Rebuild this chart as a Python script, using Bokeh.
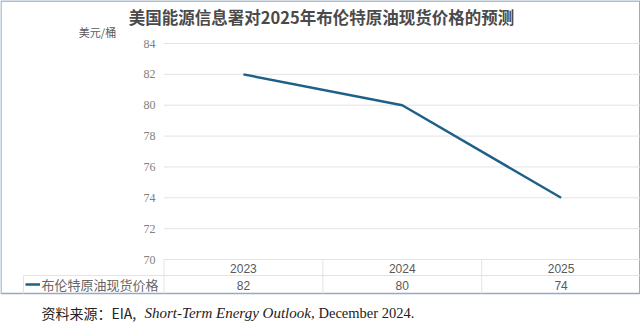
from bokeh.plotting import figure
from bokeh.models import Range1d
from bokeh.core.properties import value
from bokeh.embed import file_html
from bokeh.resources import INLINE

# ---- data ----
years = ["2023", "2024", "2025"]
prices = [82, 80, 74]
y_ticks = [70, 72, 74, 76, 78, 80, 82, 84]
title_text = "美国能源信息署对2025年布伦特原油现货价格的预测"
unit_text = "美元/桶"
series_name = "布伦特原油现货价格"
source_cn = "资料来源：EIA,"
source_it = "Short-Term Energy Outlook,"
source_tail = "December 2024."

# ---- layout constants (pixels) ----
W, H = 640, 328
plot_left, plot_right = 163.5, 640.0
y_top_px, y_bot_px = 43.0, 259.0          # pixel rows of y_ticks[-1] and y_ticks[0]
row1_bot, row2_bot = 275.0, 293.0
LINE_COLOR = "#1d6088"
GRID_COLOR = "#e3e3e3"

ncat = len(years)
ppu_x = (plot_right - plot_left) / ncat
ymin, ymax = y_ticks[0], y_ticks[-1]
ppu_y = (y_bot_px - y_top_px) / (ymax - ymin)

p = figure(width=W, height=H, output_backend="svg", toolbar_location=None,
           x_range=Range1d(0, W), y_range=Range1d(H, 0),
           x_axis_type=None, y_axis_type=None, min_border=0,
           outline_line_color=None, background_fill_color="white",
           border_fill_color="white")
p.xgrid.visible = False
p.ygrid.visible = False
p.extra_x_ranges = {"cat": Range1d(-plot_left / ppu_x, (W - plot_left) / ppu_x)}
p.extra_y_ranges = {"price": Range1d(ymin - (H - y_bot_px) / ppu_y, ymax + y_top_px / ppu_y)}

# outer frame
p.quad(left=[0.5], right=[639.2], top=[0.5], bottom=[row2_bot], fill_color=None,
       line_color="#93abc2", line_width=1.3)

# gridlines (from tick values)
gt = y_ticks[1:]
p.segment(x0=[0] * len(gt), x1=[ncat] * len(gt), y0=gt, y1=gt,
          x_range_name="cat", y_range_name="price", line_color=GRID_COLOR, line_width=1)
# table top line at axis minimum
p.segment(x0=[0], x1=[ncat], y0=[ymin], y1=[ymin], x_range_name="cat",
          y_range_name="price", line_color=GRID_COLOR, line_width=1)

# table lines
p.segment(x0=[23], x1=[W], y0=[row1_bot], y1=[row1_bot], line_color=GRID_COLOR, line_width=1)
p.segment(x0=[23], x1=[23], y0=[row1_bot], y1=[row2_bot], line_color=GRID_COLOR, line_width=1)
vx = list(range(ncat))
p.segment(x0=vx, x1=vx, y0=[y_bot_px] * ncat, y1=[row2_bot] * ncat,
          x_range_name="cat", line_color=GRID_COLOR, line_width=1)

# y tick labels
p.text(x=[155] * len(y_ticks), y=y_ticks, text=[str(t) for t in y_ticks],
       y_range_name="price", text_align="right", text_baseline="middle",
       text_font=value("Liberation Serif"), text_font_size="12px", text_color="#808080")

# data line
xc = [i + 0.5 for i in range(ncat)]
p.line(x=xc, y=prices, x_range_name="cat", y_range_name="price",
       line_color=LINE_COLOR, line_width=2.4)

# table texts
p.text(x=xc, y=[(y_bot_px + row1_bot) / 2 + 0.5] * ncat, text=years, x_range_name="cat",
       text_align="center", text_baseline="middle", text_font=value("Liberation Sans"),
       text_font_size="12px", text_color="#595959")
p.text(x=xc, y=[(row1_bot + row2_bot) / 2 + 0.5] * ncat, text=[str(v) for v in prices],
       x_range_name="cat", text_align="center", text_baseline="middle",
       text_font=value("Liberation Sans"), text_font_size="12px", text_color="#595959")

# legend cell
p.segment(x0=[25], x1=[39.5], y0=[284], y1=[284], line_color=LINE_COLOR, line_width=2.4)
p.text(x=[41], y=[284], text=[series_name], text_align="left", text_baseline="middle",
       text_font=value("Noto Sans CJK SC"), text_font_size="13px", text_color="#666666")

# title and unit
p.text(x=[321], y=[16], text=[title_text], text_align="center", text_baseline="middle",
       text_font=value("Noto Sans CJK SC"), text_font_size="16.5px", text_font_style="bold",
       text_color="#4a4a4a")
p.text(x=[97], y=[31], text=[unit_text], text_align="center", text_baseline="middle",
       text_font=value("Noto Sans CJK SC"), text_font_size="11px", text_color="#595959")

# source
p.text(x=[41], y=[312], text=[source_cn], text_align="left", text_baseline="middle",
       text_font=value("Noto Sans CJK SC"), text_font_size="14px", text_color="#222222")
p.text(x=[144], y=[312], text=[source_it], text_align="left", text_baseline="middle",
       text_font=value("Liberation Serif"), text_font_size="15px", text_font_style="italic",
       text_color="#222222")
p.text(x=[318], y=[312], text=[source_tail], text_align="left", text_baseline="middle",
       text_font=value("Liberation Serif"), text_font_size="14.5px", text_color="#222222")

open("out.html", "w").write(file_html(p, INLINE))
